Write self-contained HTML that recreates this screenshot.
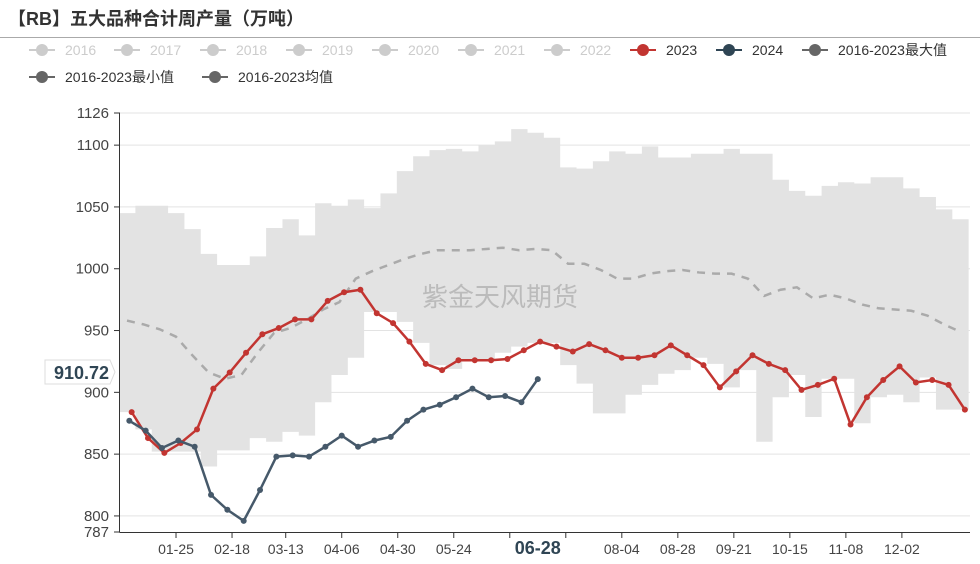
<!DOCTYPE html>
<html><head><meta charset="utf-8">
<style>
body{margin:0;background:#fff;}
svg text{font-family:"Liberation Sans","Noto Sans CJK SC",sans-serif;}
</style></head>
<body>
<svg id="chart" width="980" height="559" viewBox="0 0 980 559" xmlns="http://www.w3.org/2000/svg">
<text x="8" y="25" font-size="18" font-weight="bold" fill="#333">【RB】五大品种合计周产量（万吨）</text>
<line x1="0" y1="37.5" x2="980" y2="37.5" stroke="#aaa" stroke-width="1"/>
<g id="legend"></g>
<g id="grid"></g>
<g id="band"></g>
<text x="500" y="306" font-size="26" fill="#bbb" text-anchor="middle">紫金天风期货</text>
<g id="series"></g>
<g id="axes"></g>
</svg>
<script>
const yTicks = [1126, 1100, 1050, 1000, 950, 900, 850, 800, 787];
const xTickLabels = ["01-25","02-18","03-13","04-06","04-30","05-24","","06-28","","08-04","08-28","09-21","10-15","11-08","12-02"];
const xTickDays = [24,48,71,95,119,143,167,179,191,215,239,263,287,311,335];
const bandMax = [1045,1051,1051,1045,1032,1012,1003,1003,1010,1033,1040,1027,1053,1051,1056,1049,1061,1079,1091,1096,1097,1095,1100,1103,1113,1110,1106,1082,1081,1087,1095,1093,1099,1090,1090,1093,1093,1097,1093,1093,1072,1063,1059,1067,1070,1069,1074,1074,1065,1058,1048,1040];
const bandMin = [884,870,852,852,852,840,853,853,863,860,868,865,892,914,928,965,965,957,940,922,919,927,927,932,937,940,940,922,907,883,883,898,906,915,918,928,923,904,918,860,896,914,880,911,911,875,896,898,892,912,886,886];
const meanVals = [958,955,951,945,930,916,911,914,932,948,952,959,967,973,992,998,1003,1008,1012,1015,1015,1015,1016,1017,1015,1016,1015,1004,1004,999,992,992,996,998,999,997,996,996,992,978,983,985,976,979,976,971,968,967,966,962,955,949];
const s2023 = [884,863,851,859,870,903,916,932,947,952,959,959,974,981,983,964,956,941,923,918,926,926,926,927,934,941,937,933,939,934,928,928,930,938,930,922,904,917,930,923,918,902,906,911,874,896,910,921,908,910,906,886];
const s2024 = [877,869,855,861,856,817,805,796,821,848,849,848,856,865,856,861,864,877,886,890,896,903,896,897,892,910.72];
const start2023 = 5, start2024 = 4, meanStart = 3;

const NS = "http://www.w3.org/2000/svg";
const X0 = 120, DAYPX = 2.334, YTOP = 113, YBOT = 532, VMAX = 1126, VMIN = 787;
const xScale = d => X0 + d * DAYPX;
const yScale = v => YBOT - (v - VMIN) * (YBOT - YTOP) / (VMAX - VMIN);
function mk(tag, attrs, parent){const e=document.createElementNS(NS,tag);for(const k in attrs)e.setAttribute(k,attrs[k]);parent.appendChild(e);return e;}

const grid = document.getElementById('grid');
const axes = document.getElementById('axes');
yTicks.forEach(v=>{
  const y = yScale(v);
  if (v!==VMIN){
    const l = mk('line',{x1:120,x2:970,y1:y,y2:y,stroke:'#e3e3e3','stroke-width':1},grid);
    
    
  }
  const tk = mk('line',{x1:114,x2:120,y1:y,y2:y,stroke:'#333'},axes);
  
  
  const t = mk('text',{x:109,y:y+5,'font-size':15,fill:'#444','text-anchor':'end'},axes);
  t.textContent = v;
  
  
});

const band = document.getElementById('band');
let bandTop = '', bandBot = '';
for (let i=0;i<bandMax.length;i++){
  const xa = Math.max(120, xScale(7*i - 0.4)), xb = Math.min(970, xScale(7*i + 6.6));
  bandTop += (i===0?'M':'L')+xa+','+yScale(bandMax[i])+' L'+xb+','+yScale(bandMax[i])+' ';
}
for (let i=bandMin.length-1;i>=0;i--){
  const xa = Math.max(120, xScale(7*i - 0.4)), xb = Math.min(970, xScale(7*i + 6.6));
  bandBot += 'L'+xb+','+yScale(bandMin[i])+' L'+xa+','+yScale(bandMin[i])+' ';
}
const bp = mk('path',{d:bandTop+bandBot+'Z',fill:'#e3e3e3'},band);



const ser = document.getElementById('series');
const mp = mk('path',{d:meanVals.map((v,i)=>(i?'L':'M')+xScale(meanStart+7*i)+','+yScale(v)).join(' '),fill:'none',stroke:'#aaa','stroke-width':2.5,'stroke-dasharray':'8,7'},ser);



function drawLine(vals, start, color, name){
  const p = mk('path',{d:vals.map((v,i)=>(i?'L':'M')+xScale(start+7*i)+','+yScale(v)).join(' '),fill:'none',stroke:color,'stroke-width':2.5},ser);
  
  
  vals.forEach((v,i)=>{
    const c = mk('circle',{cx:xScale(start+7*i),cy:yScale(v),r:3,fill:color},ser);
    
    
  });
}
drawLine(s2023, start2023, '#c23531', 'series-2023');
drawLine(s2024, start2024, '#46596a', 'series-2024');

const yl = mk('line',{x1:119.5,x2:119.5,y1:YTOP,y2:YBOT,stroke:'#333'},axes);


const xl = mk('line',{x1:119.5,x2:970,y1:YBOT+0.5,y2:YBOT+0.5,stroke:'#333'},axes);


xTickDays.forEach((d,i)=>{
  const x = xScale(d);
  const big = xTickLabels[i]==='06-28';
  if(!big){
    const tk = mk('line',{x1:x,x2:x,y1:YBOT,y2:YBOT+6,stroke:'#333'},axes);
    
    
  }
  if (xTickLabels[i]){
    const t = mk('text',{x:x,y:554,'font-size':big?18:14,'font-weight':big?'bold':'normal',fill:big?'#2f4554':'#444','text-anchor':'middle'},axes);
    t.textContent = xTickLabels[i];
    
    
  }
});
const lb = mk('path',{d:'M45,360 H110 L115,372 L110,384 H45 Z',fill:'#fff',stroke:'#ddd'},axes);


const lt = mk('text',{x:109,y:379,'font-size':18,'font-weight':'bold',fill:'#2f4554','text-anchor':'end'},axes);
lt.textContent = '910.72';



const legNames = ["2016","2017","2018","2019","2020","2021","2022","2023","2024","2016-2023最大值","2016-2023最小值","2016-2023均值"];
const legColors = ["#ccc","#ccc","#ccc","#ccc","#ccc","#ccc","#ccc","#c23531","#2f4554","#666","#666","#666"];
const legText = ["#ccc","#ccc","#ccc","#ccc","#ccc","#ccc","#ccc","#333","#333","#333","#333","#333"];
const legX = [65,150,236,322,408,494,580,666,752,838,65,238];
const legY = [50,50,50,50,50,50,50,50,50,50,77,77];
const leg = document.getElementById('legend');
legNames.forEach((n,i)=>{
  const g = mk('g',{},leg);
  
  
  mk('line',{x1:legX[i]-36,x2:legX[i]-10,y1:legY[i],y2:legY[i],stroke:legColors[i],'stroke-width':2},g);
  mk('circle',{cx:legX[i]-23,cy:legY[i],r:6,fill:legColors[i]},g);
  const t = mk('text',{x:legX[i],y:legY[i]+5,'font-size':14,fill:legText[i]},g);
  t.textContent = n;
});
</script>
</body></html>
